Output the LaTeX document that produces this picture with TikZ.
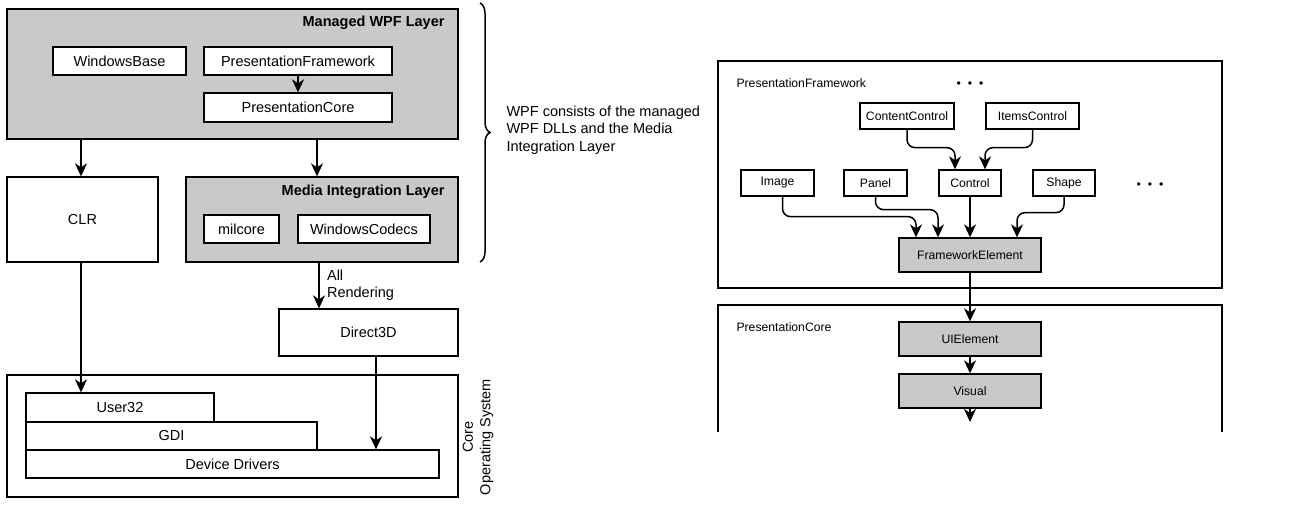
\documentclass[tikz,border=0pt]{standalone}
\usepackage{fontspec}
\setmainfont{Liberation Sans}
\usetikzlibrary{arrows.meta,decorations.pathreplacing}

\begin{document}
\begin{tikzpicture}[x=1pt,y=-1pt,
    big/.style={font=\fontsize{14.5}{17.5}\selectfont},
    small/.style={font=\fontsize{12.2}{14}\selectfont},
    box/.style={draw, fill=white, line width=1.3pt, inner sep=0pt, big},
    layer/.style={box, fill=black!21},
    cls/.style={draw, fill=white, line width=1.3pt, inner sep=0pt, small},
    base/.style={cls, fill=black!21},
    arr/.style={-{Stealth[length=13pt,width=12pt,inset=4pt]}, line width=1.5pt}]

    \useasboundingbox (0,0) rectangle (1294,508);

    % left: the layers
    \node[layer, minimum width=451pt, minimum height=130pt] (wpf) at (232.5,74) {};
    \node[big, anchor=east] (wpftitle) at (448,23) {\bfseries Managed WPF Layer};
    \node[box, minimum width=133pt, minimum height=28pt] (winbase) at (119.5,61) {WindowsBase};
    \node[box, minimum width=188pt, minimum height=28pt] (pframe) at (298,61) {PresentationFramework};
    \node[box, minimum width=188pt, minimum height=29pt] (pcore) at (298,107.5) {PresentationCore};
    \draw[arr] (pframe) -- (pcore);

    \node[box, minimum width=151pt, minimum height=85pt] (clr) at (82.5,219.5) {CLR};
    \node[layer, minimum width=272pt, minimum height=85pt] (mil) at (322,219.5) {};
    \node[big, anchor=east] (miltitle) at (448,192) {\bfseries Media Integration Layer};
    \node[box, minimum width=75pt, minimum height=28pt] (milcore) at (241.5,229) {milcore};
    \node[box, minimum width=132pt, minimum height=28pt] (codecs) at (364,229) {WindowsCodecs};
    \draw[arr] ([xshift=-1.5pt]clr.north |- wpf.south) -- ([xshift=-1.5pt]clr.north);
    \draw[arr] ([xshift=-5pt]mil.north |- wpf.south) -- ([xshift=-5pt]mil.north);

    \node[box, minimum width=179pt, minimum height=47pt] (d3d) at (368.5,332.5) {Direct3D};
    \draw[arr] ([xshift=-3pt]mil.south) -- ([xshift=-3pt]mil.south |- d3d.north)
        node[midway, right, big, align=left, xshift=4pt] {All\\Rendering};

    \node[box, minimum width=451pt, minimum height=122pt] (os) at (232.5,436) {};
    \node[box, minimum width=188pt, minimum height=29pt] (user32) at (120,407.5) {User32};
    \node[box, minimum width=291pt, minimum height=28pt] (gdi) at (171.5,436) {GDI};
    \node[box, minimum width=413pt, minimum height=28pt] (drivers) at (232.5,464) {Device Drivers};
    \node[big, rotate=90, align=center] (ostitle) at (478,437) {Core\\Operating System};
    \draw[arr] ([xshift=-1.5pt]clr.south) -- ([xshift=-1.5pt]clr.south |- user32.north);
    \draw[arr] ([xshift=7.5pt]d3d.south) -- ([xshift=7.5pt]d3d.south |- drivers.north);

    \draw[line width=1.5pt, decorate, decoration={brace, amplitude=10pt}] (480,3) -- (480,262);
    \node[big, anchor=west, align=left] (note) at (503,130) {WPF consists of the managed\\WPF DLLs and the Media\\Integration Layer};

    % right: the class tree
    \node[draw, line width=1.6pt, minimum width=504pt, minimum height=227pt] (pfbox) at (970,174.5) {};
    \node[small, anchor=west] (pflabel) at (733,83) {PresentationFramework};
    \node[small] (dotsa) at (970,85) {\textbullet\hspace{7pt}\textbullet\hspace{7pt}\textbullet};
    \node[cls, minimum width=94pt, minimum height=26pt] (ccontrol) at (907,116) {ContentControl};
    \node[cls, minimum width=93pt, minimum height=26pt] (icontrol) at (1032.5,116) {ItemsControl};
    \node[cls, minimum width=73pt, minimum height=26pt] (image) at (777.5,183) {Image};
    \node[cls, minimum width=63pt, minimum height=26pt] (panel) at (875.5,183) {Panel};
    \node[cls, minimum width=62pt, minimum height=26pt] (control) at (970,183) {Control};
    \node[cls, minimum width=62pt, minimum height=26pt] (shape) at (1064,183) {Shape};
    \node[small] (dotsb) at (1150,186) {\textbullet\hspace{7pt}\textbullet\hspace{7pt}\textbullet};
    \node[base, minimum width=142pt, minimum height=34pt] (felem) at (970,255) {FrameworkElement};

    \draw[arr, rounded corners=8pt] (ccontrol.south) -- ++(0,18) -| ([xshift=-15pt]control.north);
    \draw[arr, rounded corners=8pt] (icontrol.south) -- ++(0,18) -| ([xshift=15pt]control.north);
    \draw[arr, rounded corners=8pt] ([xshift=5pt]image.south) -- ++(0,20) -| ([xshift=-54pt]felem.north);
    \draw[arr, rounded corners=8pt] (panel.south) -- ++(0,13) -| ([xshift=-32pt]felem.north);
    \draw[arr] (control) -- (felem);
    \draw[arr, rounded corners=8pt] (shape.south) -- ++(0,16) -| ([xshift=47pt]felem.north);

    \draw[line width=1.6pt] (718,432) -- (718,305) -- (1222,305) -- (1222,432);
    \node[small, anchor=west] (pclabel) at (733,327) {PresentationCore};
    \node[base, minimum width=142pt, minimum height=34pt] (uielem) at (970,339) {UIElement};
    \node[base, minimum width=142pt, minimum height=34pt] (visual) at (970,391) {Visual};
    \coordinate (vend) at (970,422);
    \draw[arr] (felem) -- (uielem);
    \draw[arr] (uielem) -- (visual);
    \draw[arr] (visual) -- (vend);
\end{tikzpicture}
\end{document}
